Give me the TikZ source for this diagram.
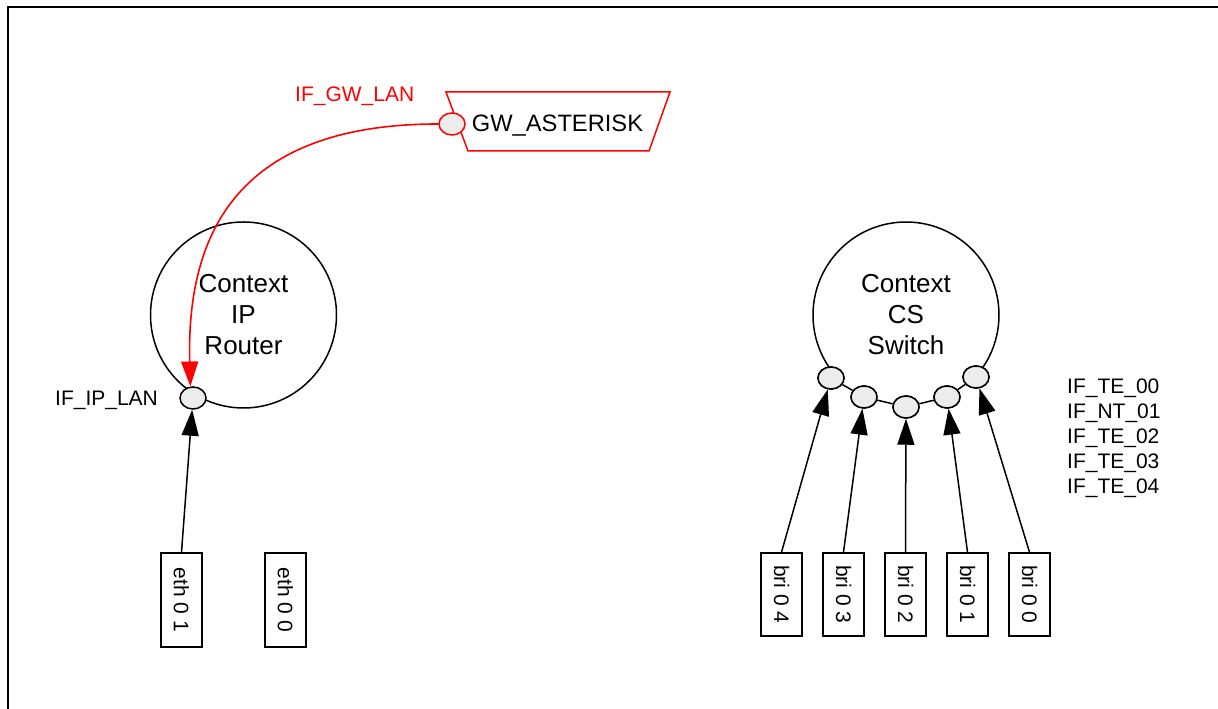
\documentclass[tikz,border=0pt]{standalone}
\usepackage{fontspec}
\setmainfont{Liberation Sans}
\usetikzlibrary{arrows.meta,shapes.geometric}
\definecolor{portgray}{HTML}{ECECEC}
\definecolor{pured}{RGB}{255,0,0}
\tikzset{
  ctx/.style={circle,draw,line width=1.5pt,minimum size=186pt,inner sep=0pt,align=center,
    font=\fontsize{26}{31}\selectfont},
  port/.style={ellipse,draw,line width=1.5pt,fill=portgray,minimum width=26pt,minimum height=22pt,inner sep=0pt},
  ifbox/.style={draw,line width=1.6pt,rotate=-90,minimum height=41pt,inner sep=0pt,
    font=\fontsize{21}{24}\selectfont},
  lbl/.style={anchor=base west,inner sep=0pt,font=\fontsize{21}{25}\selectfont},
  arr/.style={line width=1.5pt,-{Triangle[length=26pt,width=17pt]}},
  redarr/.style={line width=1.6pt,pured,-{Triangle[length=25pt,width=17pt]}},
}
\begin{document}
\begin{tikzpicture}[x=1pt,y=1pt]
\useasboundingbox (0,0) rectangle (1218,709);
% frame
\draw[line width=2pt] (8,0) -- (8,702) -- (1218,702);

% IP router context
\node[ctx] (ip) at (243.5,394) {Context\\IP\\Router};
\node[port] (ipport) at (193,311) {};
\node[lbl] (iplbl) at (55,303) {IF\_IP\_LAN};

% CS switch context
\node[circle,minimum size=186pt,inner sep=0pt,align=center,font=\fontsize{26}{31}\selectfont] (cs) at (906,394) {Context\\CS\\Switch};
\draw[line width=1.5pt] ([shift={(906,394)}]-41.5:93) arc[start angle=-41.5,end angle=220,radius=93pt];
\node[port] (p1) at (831,331) {};
\node[port] (p2) at (864,312) {};
\node[port] (p3) at (906,302) {};
\node[port] (p4) at (947,312) {};
\node[port] (p5) at (976,332) {};
\draw[line width=1.5pt] (p1) -- (p2) -- (p3) -- (p4) -- (p5);
\node[port] at (831,331) {};
\node[port] at (864,312) {};
\node[port] at (906,302) {};
\node[port] at (947,312) {};
\node[port] at (976,332) {};

\node[lbl] (te0) at (1067,315) {IF\_TE\_00};
\node[lbl] (nt1) at (1067,290) {IF\_NT\_01};
\node[lbl] (te2) at (1067,265) {IF\_TE\_02};
\node[lbl] (te3) at (1067,240) {IF\_TE\_03};
\node[lbl] (te4) at (1067,215) {IF\_TE\_04};

% interface boxes
\node[ifbox,minimum width=94pt] (eth1) at (181.5,109) {eth 0 1};
\node[ifbox,minimum width=94pt] (eth0) at (285.5,109) {eth 0 0};
\node[ifbox,minimum width=83pt] (bri4) at (781.5,114.5) {bri 0 4};
\node[ifbox,minimum width=83pt] (bri3) at (843.5,114.5) {bri 0 3};
\node[ifbox,minimum width=83pt] (bri2) at (905.5,114.5) {bri 0 2};
\node[ifbox,minimum width=83pt] (bri1) at (967.5,114.5) {bri 0 1};
\node[ifbox,minimum width=83pt] (bri0) at (1029.5,114.5) {bri 0 0};

\draw[arr] (eth1.west) -- (ipport);
\draw[arr] (bri4.west) -- (p1);
\draw[arr] (bri3.west) -- (p2);
\draw[arr] (bri2.west) -- (p3);
\draw[arr] (bri1.west) -- (p4);
\draw[arr] (bri0.west) -- (p5);

% gateway
\draw[pured,line width=1.5pt] (446,617) -- (670,617) -- (649,558) -- (468,558) -- cycle;
\node[anchor=base,inner sep=0pt,font=\fontsize{23.7}{28}\selectfont] (gw) at (557.5,577) {GW\_ASTERISK};
\node[port,draw=pured] (gwport) at (452,585) {};
\node[lbl,text=pured] (gwlbl) at (295,607) {IF\_GW\_LAN};

\draw[redarr] (gwport.west) .. controls (250,585) and (186,489) .. (ipport.103);
\end{tikzpicture}
\end{document}
